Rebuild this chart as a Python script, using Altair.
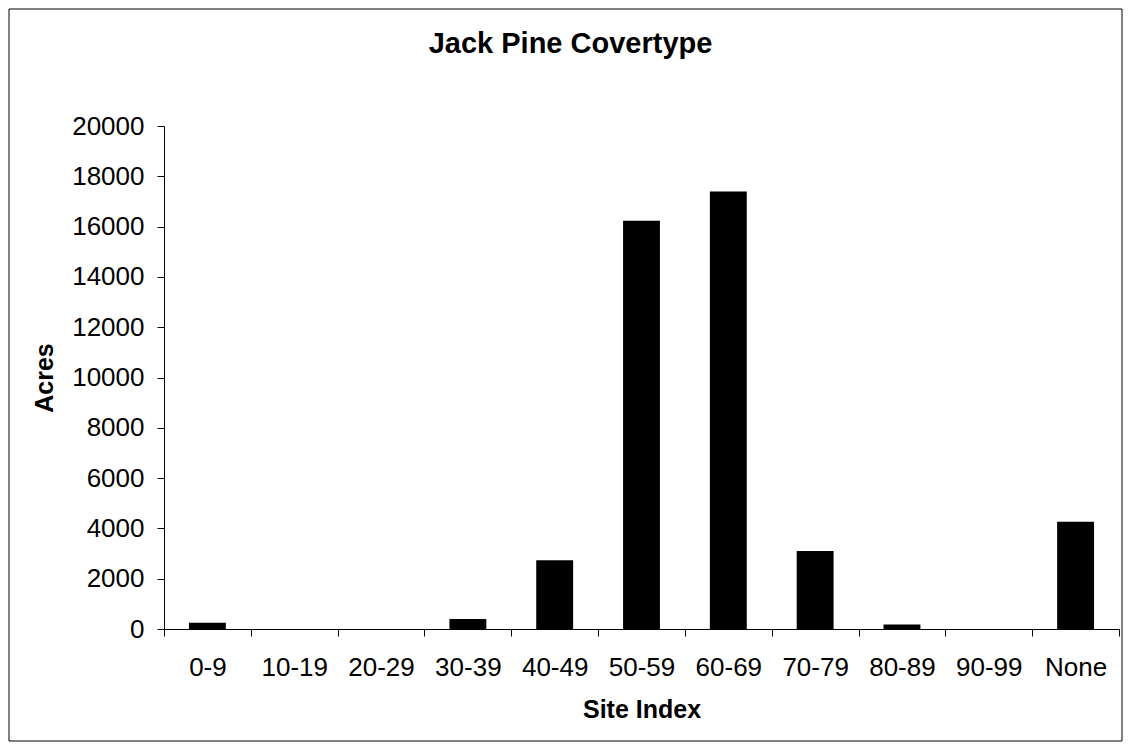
import altair as alt
import pandas as pd

categories = ["0-9", "10-19", "20-29", "30-39", "40-49", "50-59", "60-69", "70-79", "80-89", "90-99", "None"]
acres = [250, 0, 0, 400, 2730, 16230, 17400, 3100, 180, 0, 4260]
y_ticks = list(range(0, 20001, 2000))

df = pd.DataFrame({"Site Index": categories, "Acres": acres})
FONT = "Liberation Sans, Arial, sans-serif"

bars = alt.Chart(df).mark_bar(color="black", width=alt.RelativeBandSize(0.425)).encode(
    x=alt.X("Site Index:N", sort=categories,
            scale=alt.Scale(paddingInner=0, paddingOuter=0),
            axis=alt.Axis(title="Site Index", labelAngle=0, tickBand="extent",
                          tickSize=7, labelPadding=18, titlePadding=17,
                          labelFontSize=26, titleFontSize=25)),
    y=alt.Y("Acres:Q", scale=alt.Scale(domain=[0, 20000], nice=False),
            axis=alt.Axis(title="Acres", values=y_ticks, format="d", grid=False,
                          tickSize=7, labelPadding=13, titlePadding=14,
                          labelFontSize=26, titleFontSize=25)),
)

frame = alt.Chart(alt.Data(values=[{"a": 1}])).mark_rect(
    fill=None, stroke="black", strokeWidth=1
).encode(
    x=alt.value(-155), x2=alt.value(958),
    y=alt.value(-117), y2=alt.value(615),
)

chart = alt.layer(frame, bars).properties(
    width=955, height=503,
    padding={"left": 156, "top": 118, "right": 5, "bottom": 116},
    autosize=alt.AutoSizeParams(type="none"),
    title=alt.TitleParams("Jack Pine Covertype", fontSize=29, fontWeight="bold",
                          font=FONT, color="black", anchor="middle", dx=-71, offset=-50),
).configure_axis(
    labelFont=FONT, titleFont=FONT, labelColor="black", titleColor="black",
    titleFontWeight="bold", domainColor="black", tickColor="black",
    domainWidth=1, tickWidth=1,
).configure_view(stroke=None)

chart.save("out.html", embed_options={"renderer": "svg", "actions": False})
